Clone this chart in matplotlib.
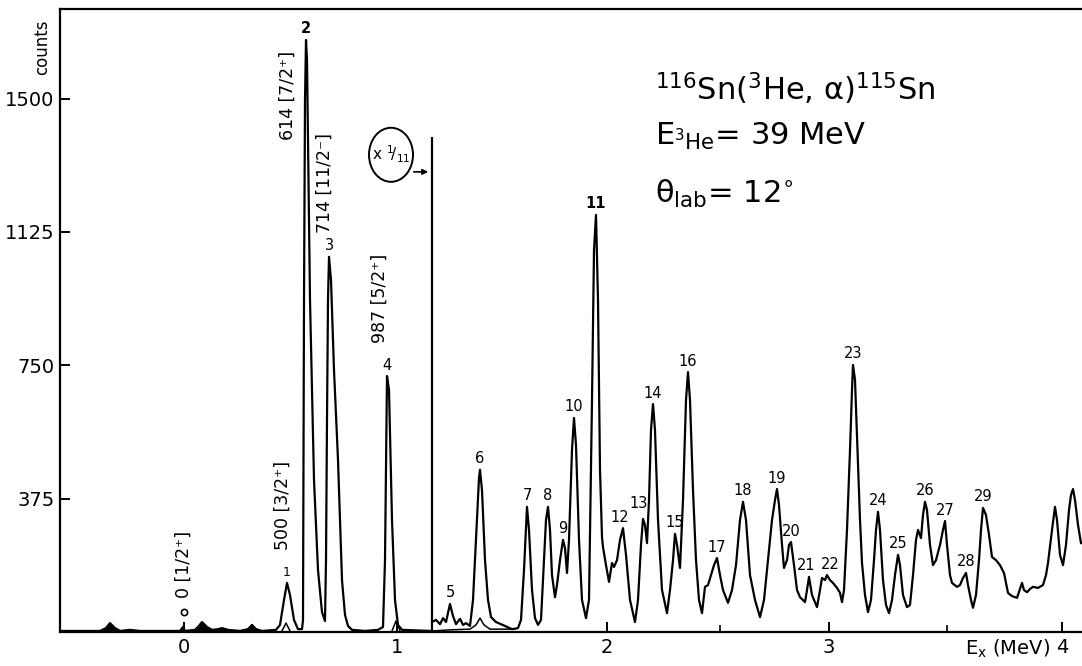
import numpy as np
import matplotlib
matplotlib.use("Agg")
import matplotlib.pyplot as plt
from matplotlib.patches import Ellipse

plt.rcParams["font.family"] = ["DejaVu Sans"]
plt.rcParams["mathtext.default"] = "regular"

# ---- spectrum: 116Sn(3He,alpha)115Sn, counts per channel ----
# low-excitation part (strong ground-band peaks)
left_channel = [0, 40, 46, 50, 55, 60, 70, 80, 100, 120, 123, 125, 135, 138, 142, 147,
                152, 158, 162, 168, 180, 188, 192, 196, 202, 216, 220, 224, 227, 230,
                234, 238, 242, 243, 244, 245, 246, 247, 250, 254, 258, 262, 265, 266,
                267, 268, 269, 271, 274, 278, 282, 285, 288, 292, 305, 318, 323, 325, 327,
                329, 332, 335, 338, 342, 371]
left_counts = [3, 3, 11, 25, 11, 3, 6, 3, 3, 3, 14, 3, 6, 14, 28, 14,
               6, 8, 11, 6, 3, 8, 20, 8, 3, 6, 20, 90, 138, 104,
               34, 8, 8, 34, 934, 1496, 1665, 1609, 934, 428, 174, 56, 31, 202,
               596, 934, 1055, 990, 737, 484, 146, 48, 17, 6, 3, 6, 14, 202, 720,
               681, 315, 90, 20, 6, 3]

# higher-excitation part
right_channel = [372, 376, 380, 383, 386, 390, 393, 396, 400, 403, 406, 410, 413, 416,
                 419, 420, 422, 425, 428, 431, 436, 445, 452, 458, 461, 464, 467, 469,
                 472, 475, 478, 481, 484, 486, 488, 490, 492, 495, 497, 500, 503, 505,
                 507, 509, 512, 514, 516, 519, 522, 526, 529, 532, 534, 536, 538, 540,
                 542, 543, 546, 549, 552, 554, 557, 560, 563, 566, 570, 575, 578, 581,
                 583, 585, 587, 589, 591, 593, 595, 598, 602, 607, 610, 613, 615, 617,
                 620, 623, 626, 628, 630, 633, 636, 639, 642, 645, 648, 651, 654, 657,
                 660, 663, 668, 672, 676, 680, 683, 686, 690, 695, 700, 704, 708, 712,
                 715, 717, 719, 722, 724, 727, 729, 731, 734, 737, 740, 745, 747, 749,
                 752, 757, 760, 762, 765, 767, 770, 773, 777, 780, 782, 784, 787, 790,
                 792, 793, 795, 798, 800, 802, 805, 808, 811, 814, 816, 818, 820, 823,
                 826, 829, 832, 835, 838, 840, 843, 847, 850, 853, 856, 858, 861, 863,
                 865, 867, 870, 873, 876, 880, 883, 885, 887, 890, 892, 897, 900, 903,
                 906, 908, 911, 913, 916, 919, 921, 923, 926, 929, 932, 936, 940, 944,
                 948, 952, 957, 962, 964, 967, 970, 973, 978, 983, 986, 988, 992, 995,
                 997, 1000, 1003, 1006, 1009, 1011, 1013, 1015, 1018, 1021]
right_counts = [28, 34, 22, 39, 28, 79, 45, 22, 37, 20, 25, 17, 90, 259,
                433, 456, 399, 202, 90, 42, 28, 17, 8, 11, 34, 174, 352, 287,
                118, 39, 20, 34, 202, 315, 352, 287, 160, 98, 132, 202, 259, 236,
                166, 259, 512, 602, 526, 259, 90, 39, 90, 652, 1074, 1173, 934, 456,
                267, 239, 188, 141, 194, 183, 202, 259, 292, 217, 90, 28, 90, 245,
                318, 301, 250, 371, 568, 641, 568, 315, 118, 53, 118, 202, 276, 245,
                180, 371, 652, 731, 652, 399, 202, 90, 53, 127, 132, 160, 188, 208,
                160, 118, 82, 118, 188, 315, 366, 315, 160, 90, 42, 90, 202, 315,
                371, 402, 357, 245, 180, 202, 245, 253, 188, 118, 98, 84, 118, 155,
                104, 70, 118, 152, 146, 160, 146, 138, 124, 110, 84, 118, 287, 512,
                681, 751, 709, 475, 315, 194, 104, 56, 90, 202, 287, 338, 287, 146,
                76, 53, 90, 160, 217, 188, 104, 70, 76, 160, 259, 287, 264, 329,
                366, 343, 245, 188, 202, 245, 287, 312, 245, 160, 138, 127, 132, 152,
                166, 132, 90, 68, 104, 202, 287, 349, 329, 273, 211, 202, 188, 166,
                110, 101, 96, 138, 118, 112, 121, 127, 124, 132, 160, 194, 287, 352,
                315, 217, 188, 245, 343, 385, 402, 371, 301, 250]

# reduced-scale (x 1/11) trace
reduced_channel = [222, 226, 230, np.nan, 332, 336, 340, np.nan,
                   372, 390, 410, 416, 420, 424, 430, 440, 455]
reduced_counts = [3, 25, 3, np.nan, 3, 31, 3, np.nan,
                  3, 6, 8, 20, 39, 20, 8, 8, 8]

scale_break_channel = 372
scale_break_top = 1392

# identified peaks
peak_numbers = list(range(1, 30))
peak_channels = [227, 246, 269, 327, 390, 420, 467, 488, 503, 514, 536, 563, 583, 593,
                 615, 628, 657, 683, 717, 731, 749, 767, 793, 818, 838, 865, 885, 906, 923]

# level assignments of the strongest peaks
level_labels = ["0 [1/2⁺]", "500 [3/2⁺]", "614 [7/2⁺]", "714 [11/2⁻]", "987 [5/2⁺]"]
ground_state_channel = 124

# energy calibration marks
energy_labels = ["0", "1", "2", "3", "4"]
energy_channels = [124, 337, 547, 769, 1002]
half_mev_channels = [660, 887]

y_ticks = [375, 750, 1125, 1500]

# ---------------------------------------------------------------
fig = plt.figure(figsize=(10.82, 6.66), dpi=100)
ax = fig.add_axes([60 / 1082, 34 / 666, 1022 / 1082, 623 / 666])
ax.set_xlim(0, 1022)
ax.set_ylim(0, 1752)

lx = np.array(left_channel, float)
ly = np.array(left_counts, float)
rx = np.array(right_channel, float)
ry = np.array(right_counts, float)

ink = "black"
ax.plot(lx, ly, color=ink, lw=1.6, solid_joinstyle="round")
low = lx <= 215
ax.fill_between(lx[low], 0, ly[low], color=ink, lw=0)
ax.plot(rx, ry, color=ink, lw=1.6, solid_joinstyle="round")
ax.plot(reduced_channel, reduced_counts, color=ink, lw=1.1)
ax.vlines(scale_break_channel, 0, scale_break_top, color=ink, lw=1.6)

# ground-state marker
ax.plot([ground_state_channel], [56], marker="o", ms=4.5, mfc="white", mec=ink, mew=1.2)

# peak numbers
all_x = np.concatenate([lx, rx])
all_y = np.concatenate([ly, ry])
label_offset = {12: (-2, 2.5), 13: (-3, 5.5), 21: (-2, 2.5), 22: (2, 2.5)}
for n, ch in zip(peak_numbers, peak_channels):
    top = np.interp(ch, all_x, all_y)
    fs = 9 if n == 1 else 10.5
    ax.annotate(str(n), xy=(ch, top), xytext=label_offset.get(n, (0, 2.5)),
                textcoords="offset points", ha="center", va="bottom", fontsize=fs,
                fontweight="bold" if n in (2, 11) else "normal")

# level labels (vertical)
level_pos = [(124, 96), (223, 231), (228, 1384), (265, 1122), (320, 813)]
for txt, (x, y) in zip(level_labels, level_pos):
    ax.text(x, y, txt, rotation=90, ha="center", va="bottom", fontsize=12.5)

# scale-change note
ax.add_patch(Ellipse((331, 1342), 44, 152, fill=False, ec=ink, lw=1.4))
ax.text(331, 1342, r"x $^{1}\!/_{11}$", ha="center", va="center", fontsize=11)
ax.annotate("", xy=(371, 1294), xytext=(351, 1294),
            arrowprops=dict(arrowstyle="-|>", color=ink, lw=1.2, mutation_scale=8))

# reaction / kinematics
tx = 595
ax.text(tx, 1496, r"$^{116}$Sn($^{3}$He, α)$^{115}$Sn", fontsize=22, va="baseline")
ax.text(tx, 1370, r"E$_{{}^{3}He}$= 39 MeV", fontsize=22, va="baseline")
ax.text(tx, 1207, r"θ$_{lab}$= 12$^{\circ}$", fontsize=22, va="baseline")

# axes styling
for side in ("left", "bottom", "top"):
    ax.spines[side].set_linewidth(1.6)
ax.spines["right"].set_visible(False)

ax.set_xticks(energy_channels, energy_labels)
ax.set_xticks(half_mev_channels, minor=True)
ax.set_yticks(y_ticks, [str(v) for v in y_ticks])
ax.tick_params(axis="both", which="major", direction="in", length=7, width=1.4,
               labelsize=14, pad=4, top=False, right=False)
ax.tick_params(axis="x", which="minor", direction="in", length=5, width=1.2, top=False)

fig.text(42 / 1082, 1 - 47 / 666, "counts", rotation=90, ha="center", va="center", fontsize=12)
fig.text(1050 / 1082, 1 - 649 / 666, r"E$_x$ (MeV)", ha="right", va="center", fontsize=14)

fig.savefig("out.png", dpi=100, facecolor="white")
